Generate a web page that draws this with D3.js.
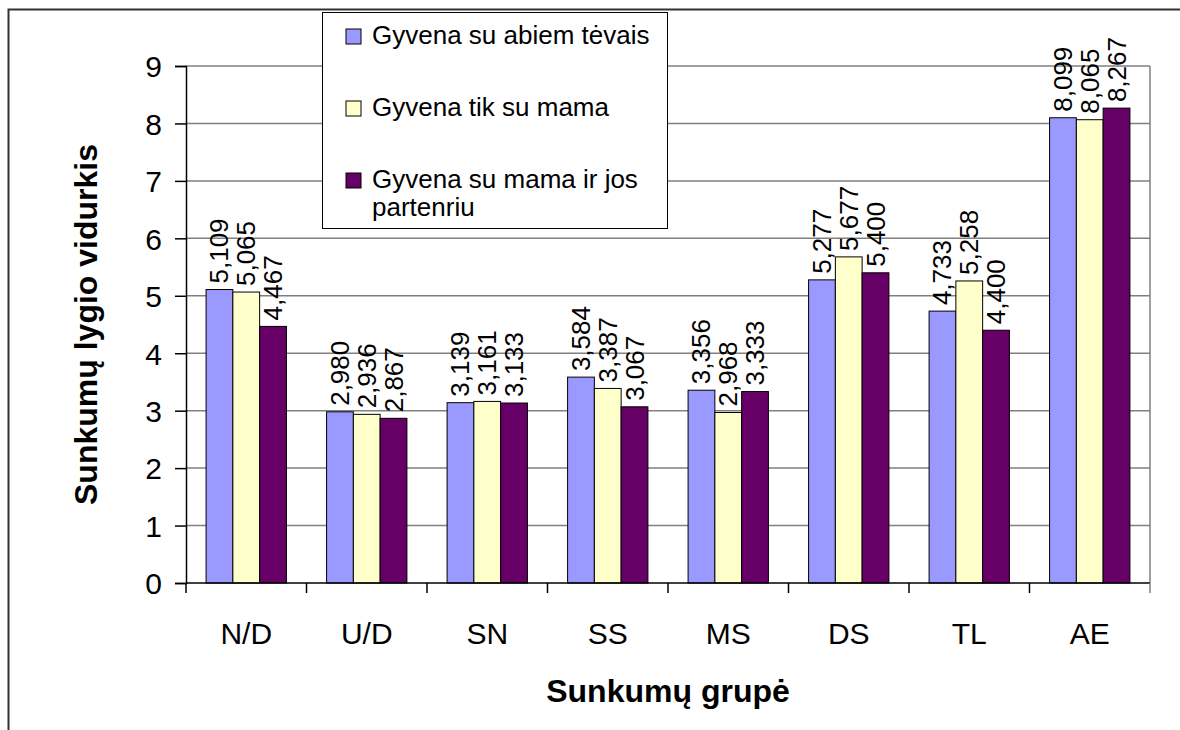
<!DOCTYPE html>
<html lang="lt">
<head>
<meta charset="UTF-8">
<script src="https://d3js.org/d3.v7.min.js"></script>
<style>
    body { margin: 0; background: white; }
    svg { display: block; font-family: "Liberation Sans", Arial, sans-serif; }
    .grid line { stroke: #808080; stroke-width: 1.5px; }
    .bar { stroke: #000; stroke-width: 1px; }
    .val { font-size: 26px; fill: #000; }
    .tick-lbl { font-size: 30px; fill: #000; }
    .axis-title { font-size: 32px; font-weight: bold; fill: #000; }
    .legend-text { font-size: 26px; fill: #000; }
</style>
</head>
<body>
<div id="chart"></div>
<script>
    const categories = ["N/D", "U/D", "SN", "SS", "MS", "DS", "TL", "AE"];
    const seriesNames = ["Gyvena su abiem tėvais", "Gyvena tik su mama", "Gyvena su mama ir jos partenriu"];
    const seriesColors = ["#9999ff", "#ffffcc", "#660066"];
    const bothParents = [5.109, 2.980, 3.139, 3.584, 3.356, 5.277, 4.733, 8.099];
    const onlyMother = [5.065, 2.936, 3.161, 3.387, 2.968, 5.677, 5.258, 8.065];
    const motherPartner = [4.467, 2.867, 3.133, 3.067, 3.333, 5.400, 4.400, 8.267];
    const yTicks = [0, 1, 2, 3, 4, 5, 6, 7, 8, 9];

    const seriesValues = [bothParents, onlyMother, motherPartner];

    const width = 1180, height = 730;
    const plot = { left: 186, right: 1150, top: 66, bottom: 583 };

    const svg = d3.select("#chart").append("svg")
        .attr("width", width)
        .attr("height", height);

    // outer frame (only top and left visible in the picture)
    svg.append("path")
        .attr("d", `M8.5,${height + 2} V9.5 H${width + 2}`)
        .attr("fill", "none")
        .attr("stroke", "#333")
        .attr("stroke-width", 2);

    const x = d3.scaleBand().domain(categories).range([plot.left, plot.right]).paddingInner(0).paddingOuter(0);
    const x1 = d3.scaleBand().domain(d3.range(seriesNames.length)).range([0, x.bandwidth()]).paddingInner(0).paddingOuter(0.75);
    const y = d3.scaleLinear().domain([0, 9]).range([plot.bottom, plot.top]);

    // gridlines
    svg.append("g").attr("class", "grid")
        .selectAll("line")
        .data(yTicks.filter(d => d > 0))
        .join("line")
        .attr("x1", plot.left).attr("x2", plot.right)
        .attr("y1", d => y(d)).attr("y2", d => y(d));

    // right edge of plot area
    svg.append("line")
        .attr("x1", plot.right).attr("x2", plot.right)
        .attr("y1", plot.top).attr("y2", plot.bottom)
        .attr("stroke", "#808080").attr("stroke-width", 1.5);

    // bars
    const groups = svg.append("g").selectAll("g")
        .data(categories)
        .join("g")
        .attr("transform", d => `translate(${x(d)},0)`);

    groups.selectAll("rect")
        .data((c, i) => seriesValues.map((s, k) => ({ k, v: s[i] })))
        .join("rect")
        .attr("class", "bar")
        .attr("x", d => x1(d.k))
        .attr("width", x1.bandwidth())
        .attr("y", d => y(d.v))
        .attr("height", d => y(0) - y(d.v))
        .attr("fill", d => seriesColors[d.k]);

    groups.selectAll("text")
        .data((c, i) => seriesValues.map((s, k) => ({ k, v: s[i] })))
        .join("text")
        .attr("class", "val")
        .attr("transform", d => `translate(${x1(d.k) + x1.bandwidth() / 2 + 9},${y(d.v) - 6}) rotate(-90)`)
        .text(d => d.v.toFixed(3).replace(".", ","));

    // y axis
    const yAxis = svg.append("g").attr("transform", `translate(${plot.left},0)`)
        .call(d3.axisLeft(y).tickValues(yTicks).tickSize(11).tickPadding(13).tickFormat(d3.format("d")));
    yAxis.select(".domain").attr("stroke", "#000").attr("stroke-width", 1.5);
    yAxis.selectAll(".tick line").attr("stroke", "#000").attr("stroke-width", 1.5);
    yAxis.selectAll(".tick text").attr("class", "tick-lbl").attr("font-size", null).attr("font-family", null)
        .attr("dy", "0.36em");

    // x axis
    const xAxisG = svg.append("g").attr("transform", `translate(0,${plot.bottom})`);
    xAxisG.append("line")
        .attr("x1", plot.left).attr("x2", plot.right)
        .attr("stroke", "#000").attr("stroke-width", 1.5);
    const bounds = categories.map(c => x(c)).concat([plot.right]);
    xAxisG.selectAll(".cat-tick")
        .data(bounds)
        .join("line")
        .attr("class", "cat-tick")
        .attr("x1", d => d).attr("x2", d => d)
        .attr("y1", 0).attr("y2", 10)
        .attr("stroke", (d, i) => i === bounds.length - 1 ? "#808080" : "#000")
        .attr("stroke-width", 1.5);
    xAxisG.selectAll(".cat-lbl")
        .data(categories)
        .join("text")
        .attr("class", "tick-lbl")
        .attr("x", d => x(d) + x.bandwidth() / 2)
        .attr("y", 61)
        .attr("text-anchor", "middle")
        .text(d => d);

    // axis titles
    svg.append("text")
        .attr("class", "axis-title")
        .attr("text-anchor", "middle")
        .attr("transform", `translate(97,${(plot.top + plot.bottom) / 2}) rotate(-90)`)
        .text("Sunkumų lygio vidurkis");
    svg.append("text")
        .attr("class", "axis-title")
        .attr("text-anchor", "middle")
        .attr("x", 668)
        .attr("y", 702)
        .text("Sunkumų grupė");

    // legend
    const legend = svg.append("g");
    legend.append("rect")
        .attr("x", 322.5).attr("y", 12.5)
        .attr("width", 345).attr("height", 216)
        .attr("fill", "#fff").attr("stroke", "#000").attr("stroke-width", 1);
    const rowY = [44, 116, 188];
    seriesNames.forEach((name, i) => {
        legend.append("rect")
            .attr("x", 346).attr("y", rowY[i] - 15)
            .attr("width", 15).attr("height", 15)
            .attr("fill", seriesColors[i])
            .attr("stroke", "#000").attr("stroke-width", 1);
        const t = legend.append("text").attr("class", "legend-text")
            .attr("x", 372).attr("y", rowY[i]);
        if (i === 2) {
            t.append("tspan").attr("x", 372).text("Gyvena su mama ir jos");
            t.append("tspan").attr("x", 372).attr("dy", 28).text("partenriu");
        } else {
            t.text(name);
        }
    });
</script>
</body>
</html>
